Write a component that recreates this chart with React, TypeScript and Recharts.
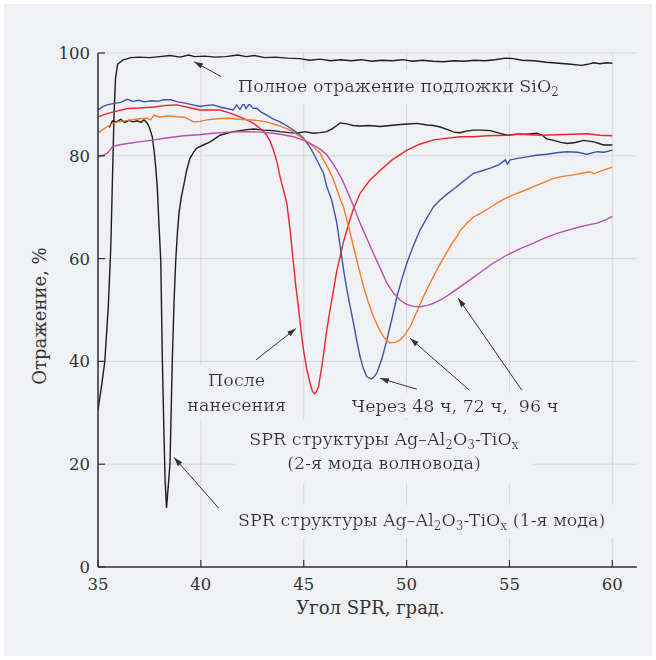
import React from "react";
import { LineChart, Line, XAxis, YAxis, CartesianGrid } from "recharts";

// Reflectance curves, [SPR angle (deg), reflectance (%)]
const sio2Total: [number, number][] = [
  [35, 30.5], [35.2, 36], [35.33, 40], [35.5, 50.6], [35.62, 62], [35.7, 75], [35.78, 88],
  [35.85, 95], [35.95, 97.8], [36.2, 98.6], [36.6, 99.1], [37, 99.2], [37.5, 99.1], [38, 99.3],
  [38.5, 99.5], [39, 99.2], [39.4, 99.6], [39.7, 99.3], [40.2, 99.4], [40.7, 99.2], [41.2, 99.3],
  [41.8, 99.6], [42.2, 99.3], [42.6, 99.5], [43.1, 99.1], [43.6, 99.2], [44.2, 99.0], [44.8, 98.9],
  [45.3, 98.6], [45.8, 98.8], [46.3, 98.5], [46.8, 98.7], [47.3, 98.5], [47.8, 98.7], [48.3, 98.4],
  [48.8, 98.6], [49.3, 98.5], [49.8, 98.7], [50.3, 98.4], [50.8, 98.6], [51.3, 98.4], [51.8, 98.3],
  [52.3, 98.5], [52.8, 98.4], [53.3, 98.6], [53.8, 98.5], [54.3, 98.7], [54.8, 99.0], [55.2, 98.9],
  [55.6, 98.6], [56.2, 98.5], [56.8, 98.2], [57.4, 98.0], [58.0, 97.8], [58.5, 97.6], [58.8, 97.8],
  [59.1, 98.1], [59.4, 97.9], [59.7, 98.1], [60, 98.0],
];

const firstMode: [number, number][] = [
  [35.55, 85.5], [35.7, 86.8], [35.9, 86.6], [36.1, 87.1], [36.3, 86.5], [36.5, 86.9], [36.7, 86.6],
  [36.9, 86.8], [37.1, 86.5], [37.24, 87], [37.4, 86.3], [37.5, 85.5], [37.64, 83.7], [37.74, 80.5],
  [37.8, 78], [37.88, 74], [37.96, 67], [38.05, 59.7], [38.13, 40], [38.2, 27], [38.26, 17],
  [38.33, 11.5], [38.4, 15], [38.5, 20.2], [38.61, 40], [38.7, 52], [38.78, 59.7], [38.86, 65],
  [38.94, 69], [39.05, 72], [39.18, 74.5], [39.3, 77], [39.47, 79.5], [39.65, 80.7], [39.8, 81.5],
  [40.12, 82.1], [40.4, 82.6], [40.6, 83.1], [40.93, 84], [41.3, 84.4], [41.58, 84.7], [42.23, 85.1],
  [42.6, 85.2], [43.04, 85], [43.5, 84.9], [43.85, 84.7], [44.3, 84.5], [44.66, 84.4], [45.07, 84.7],
  [45.47, 84.4], [45.8, 84.5], [46.12, 84.7], [46.4, 85.3], [46.61, 85.9], [46.77, 86.4], [47.1, 86.2],
  [47.4, 85.9], [47.74, 85.8], [48.2, 85.9], [48.72, 85.7], [49.2, 85.9], [49.69, 86.1], [50.1, 86.2],
  [50.5, 86.3], [51.0, 86.0], [51.3, 85.9], [51.63, 85.6], [52.0, 85.1], [52.3, 84.6], [52.6, 84.5],
  [52.9, 84.8], [53.25, 85], [53.6, 85], [54.07, 84.9], [54.5, 84.4], [54.88, 84.0], [55.3, 84.2],
  [55.85, 84.2], [56.34, 84.4], [56.6, 84.0], [56.8, 83.3], [57.15, 83], [57.5, 82.6], [57.8, 82.4],
  [58.2, 82.6], [58.6, 83], [59.1, 82.7], [59.58, 82.1], [60, 82.1],
];

const asDeposited: [number, number][] = [
  [35, 87.6], [35.3, 88], [35.53, 88.3], [36, 88.8], [36.43, 89.2], [37, 89.3], [37.72, 89.5],
  [38.3, 89.8], [38.86, 89.9], [39.4, 89.4], [39.96, 88.9], [40.5, 88.9], [40.93, 88.9], [41.42, 88.3],
  [41.8, 87.7], [42.23, 87], [42.6, 86.2], [42.88, 85.3], [43.05, 84.7], [43.2, 84], [43.37, 82.8],
  [43.53, 81.1], [43.7, 78.8], [43.85, 75.9], [44.02, 73.3], [44.18, 70.7], [44.34, 65.5], [44.5, 59.1],
  [44.62, 54.5], [44.74, 50.6], [44.87, 46], [44.99, 42.2], [45.15, 38.5], [45.31, 35.7], [45.42, 34.2],
  [45.52, 33.7], [45.62, 34.1], [45.72, 35.1], [45.9, 39.5], [46.12, 46.1], [46.3, 50.5], [46.45, 53.9],
  [46.6, 57.5], [46.77, 60.4], [46.93, 63.2], [47.1, 65.6], [47.4, 69.5], [47.74, 72.7], [48.2, 75.2],
  [48.72, 77.2], [49.3, 79.2], [50.02, 81.1], [50.6, 82.2], [51.31, 83.1], [51.9, 83.4], [52.6, 83.7],
  [53.25, 83.7], [53.9, 83.9], [54.88, 84], [55.5, 84.2], [56.5, 84], [57.3, 84.1], [58.12, 84.2],
  [58.8, 84.3], [59.4, 84.0], [60, 83.9],
];

const after48h: [number, number][] = [
  [35, 88.9], [35.25, 89.6], [35.45, 89.9], [35.78, 90.2], [36.1, 90.4], [36.43, 91], [36.7, 90.6],
  [37.0, 90.8], [37.24, 90.5], [37.6, 90.7], [37.9, 90.6], [38.2, 90.9], [38.54, 90.9], [38.86, 90.5],
  [39.18, 90.3], [39.5, 90.0], [39.96, 89.6], [40.3, 89.8], [40.6, 89.9], [40.93, 89.5], [41.26, 89.2],
  [41.58, 88.9], [41.74, 89.9], [41.9, 89.0], [42.07, 90.2], [42.2, 89.2], [42.35, 90.1], [42.55, 89.2],
  [42.7, 89.3], [42.9, 88.6], [43.2, 87.9], [43.5, 87.2], [43.85, 86.6], [44.2, 85.8], [44.5, 85],
  [44.75, 84.3], [44.99, 83.4], [45.25, 82], [45.47, 80.5], [45.7, 78.7], [45.96, 76.6], [46.12, 74],
  [46.36, 71.4], [46.61, 66.9], [46.77, 62.5], [46.93, 58], [47.1, 53.9], [47.26, 50.6], [47.42, 47.4],
  [47.58, 44], [47.74, 40.9], [47.9, 38.6], [48.07, 37], [48.28, 36.6], [48.4, 36.9], [48.55, 37.7],
  [48.8, 40.5], [49.04, 44.2], [49.3, 48.5], [49.53, 52.6], [49.77, 56], [50.01, 59.1], [50.33, 62.5],
  [50.66, 65.6], [51.0, 68], [51.31, 70.1], [51.63, 71.4], [51.95, 72.5], [52.28, 73.5], [52.75, 75],
  [53.25, 76.6], [53.6, 77], [54.07, 77.6], [54.5, 78.3], [54.8, 79.2], [54.9, 78.4], [55.04, 79.2],
  [55.4, 79.5], [55.85, 79.8], [56.3, 80.1], [56.82, 80.3], [57.3, 80.6], [57.8, 80.8], [58.3, 80.7],
  [58.77, 80.3], [59.26, 80.8], [59.6, 80.7], [60, 81.1],
];

const after72h: [number, number][] = [
  [35, 84.4], [35.2, 85], [35.45, 85.7], [35.7, 86.2], [35.94, 86.6], [36.3, 86.8], [36.59, 87],
  [37.0, 87.2], [37.4, 87.3], [37.55, 87.0], [37.72, 87.9], [38.0, 87.5], [38.4, 87.8], [38.86, 87.6],
  [39.2, 87.5], [39.64, 86.6], [39.96, 86.7], [40.29, 87], [40.8, 87.2], [41.42, 87.3], [41.8, 87.1],
  [42.23, 87], [42.7, 86.9], [43.2, 86.6], [43.7, 86], [44.18, 85.3], [44.5, 84.6], [44.83, 83.7],
  [45.15, 82.8], [45.47, 81.8], [45.8, 80.5], [45.96, 79.2], [46.2, 77.5], [46.45, 75.3], [46.61, 73.5],
  [46.77, 71.6], [46.93, 70.1], [47.18, 66.2], [47.42, 62.3], [47.66, 58.4], [47.91, 54.5], [48.15, 51.4],
  [48.39, 48.7], [48.64, 46.5], [48.88, 44.8], [49.04, 44], [49.2, 43.6], [49.45, 43.7], [49.69, 44.2],
  [49.94, 45.3], [50.18, 46.8], [50.5, 49.7], [50.82, 52.6], [51.15, 55.3], [51.47, 57.8], [51.72, 59.6],
  [51.96, 61.2], [52.2, 62.9], [52.45, 64.3], [52.6, 65.4], [52.93, 66.9], [53.25, 68.1], [53.58, 68.8],
  [54.0, 69.8], [54.39, 70.8], [54.8, 71.7], [55.2, 72.4], [55.7, 73.2], [56.17, 74], [56.65, 74.8],
  [57.15, 75.6], [57.6, 76.0], [58.12, 76.3], [58.5, 76.6], [58.93, 76.9], [59.1, 76.5], [59.5, 77.1],
  [60, 77.8],
];

const after96h: [number, number][] = [
  [35, 79.8], [35.25, 80.1], [35.45, 80.5], [35.6, 81.2], [35.7, 81.8], [36.0, 82.1], [36.43, 82.4],
  [37.0, 82.7], [37.72, 83.1], [38.4, 83.5], [39.18, 83.9], [39.9, 84.1], [40.6, 84.4], [41.4, 84.6],
  [42.23, 84.7], [42.9, 84.6], [43.53, 84.4], [44.0, 84.1], [44.5, 83.7], [45.0, 83.0], [45.47, 82.1],
  [45.8, 81.3], [46.12, 80.2], [46.45, 78.3], [46.61, 77.2], [46.85, 75.5], [47.1, 73.3], [47.42, 70.2],
  [47.74, 66.9], [48.07, 63.9], [48.39, 61], [48.72, 58.1], [49.04, 55.2], [49.37, 53.3], [49.69, 51.9],
  [50.0, 51.1], [50.33, 50.7], [50.66, 50.6], [51.0, 50.9], [51.3, 51.3], [51.63, 51.9], [52.1, 53.1],
  [52.6, 54.5], [53.1, 55.9], [53.58, 57.3], [54.2, 59.1], [54.88, 60.7], [55.5, 61.9], [56.17, 63],
  [56.7, 64], [57.31, 64.9], [57.9, 65.6], [58.44, 66.2], [58.9, 66.6], [59.26, 66.9], [59.7, 67.6],
  [60, 68.2],
];

const xTicks = [35, 40, 45, 50, 55, 60];
const yTicks = [0, 20, 40, 60, 80, 100];

const X_MIN = 35;
const X_MAX = 61.2;

const W = 656;
const H = 660;
const M = { top: 53, right: 19, bottom: 53, left: 38 };
const Y_AXIS_W = 60;
const X_AXIS_H = 40;

const PLOT_L = M.left + Y_AXIS_W;
const PLOT_R = W - M.right;
const PLOT_T = M.top;
const PLOT_B = H - M.bottom - X_AXIS_H;

// data -> pixel, same linear mapping the axes use
const sx = (v: number) => PLOT_L + ((v - X_MIN) / (X_MAX - X_MIN)) * (PLOT_R - PLOT_L);
const sy = (v: number) => PLOT_B - (v / 100) * (PLOT_B - PLOT_T);

const BG = "#f0f1f4";
const INK = "#333";
const FONT = "'DejaVu Serif', serif";
const NOTE_SIZE = 17.5;
const SUB_SIZE = 12;

const toRows = (pts: [number, number][]) => pts.map(([x, y]) => ({ x, y }));

const series = [
  { name: "SiO2", data: toRows(sio2Total), color: "#1e1e1e" },
  { name: "mode1", data: toRows(firstMode), color: "#1e1e1e" },
  { name: "0h", data: toRows(asDeposited), color: "#e8262b" },
  { name: "48h", data: toRows(after48h), color: "#3a55a8" },
  { name: "72h", data: toRows(after72h), color: "#f47b2c" },
  { name: "96h", data: toRows(after96h), color: "#b84fab" },
];

const XTick = (props: any) => {
  const { x, y, payload } = props;
  return (
    <g>
      <line x1={x} x2={x} y1={y} y2={y - 7} stroke={INK} strokeWidth={1.2} />
      <text x={x} y={y + 23} textAnchor="middle" fill={INK} fontSize={16.5} fontFamily={FONT}>
        {payload.value}
      </text>
    </g>
  );
};

const YTick = (props: any) => {
  const { x, y, payload } = props;
  return (
    <g>
      <line x1={x} x2={x + 7} y1={y} y2={y} stroke={INK} strokeWidth={1.2} />
      <text x={x - 8} y={y + 6} textAnchor="end" fill={INK} fontSize={16.5} fontFamily={FONT}>
        {payload.value}
      </text>
    </g>
  );
};

// "Ag–Al2O3-TiOx" with subscripts; `tail` continues on the main baseline
const Formula = ({ tail }: { tail?: string }) => (
  <>
    <tspan>SPR структуры Ag–Al</tspan>
    <tspan dy={4} fontSize={SUB_SIZE}>2</tspan>
    <tspan dy={-4}>O</tspan>
    <tspan dy={4} fontSize={SUB_SIZE}>3</tspan>
    <tspan dy={-4}>-TiO</tspan>
    <tspan dy={4} fontSize={SUB_SIZE}>x</tspan>
    {tail && <tspan dy={-4}>{tail}</tspan>}
  </>
);

const Arrow = ({ from, to }: { from: [number, number]; to: [number, number] }) => (
  <line
    x1={sx(from[0])}
    y1={sy(from[1])}
    x2={sx(to[0])}
    y2={sy(to[1])}
    stroke={INK}
    strokeWidth={1}
    markerEnd="url(#head)"
  />
);

const Notes = () => (
  <svg
    width={W}
    height={H}
    style={{ position: "absolute", left: 0, top: 0, pointerEvents: "none" }}
    fontFamily={FONT}
    fontSize={NOTE_SIZE}
    fill={INK}
  >
    <defs>
      <marker id="head" viewBox="0 0 10 10" refX="10" refY="5" markerWidth="9" markerHeight="9" orient="auto" markerUnits="userSpaceOnUse">
        <path d="M0,1.8 L10,5 L0,8.2 z" fill={INK} />
      </marker>
      <filter id="pad" x="-0.05" y="-0.2" width="1.1" height="1.4">
        <feFlood floodColor={BG} />
        <feMerge>
          <feMergeNode />
          <feMergeNode in="SourceGraphic" />
        </feMerge>
      </filter>
      <filter id="padTight" x="-0.02" y="-0.1" width="1.04" height="1.2">
        <feFlood floodColor={BG} />
        <feMerge>
          <feMergeNode />
          <feMergeNode in="SourceGraphic" />
        </feMerge>
      </filter>
    </defs>

    <Arrow from={[41.58, 94.1]} to={[39.67, 98.3]} />
    <text x={sx(41.8)} y={sy(92.5)} filter="url(#pad)">
      <tspan>Полное отражение подложки SiO</tspan>
      <tspan dy={4} fontSize={SUB_SIZE}>2</tspan>
    </text>

    <Arrow from={[42.68, 40.3]} to={[44.62, 46.4]} />
    <g filter="url(#padTight)" textAnchor="middle">
      <text x={sx(41.74)} y={sy(35.2)}>После</text>
      <text x={sx(41.74)} y={sy(30.4)}>нанесения</text>
    </g>

    <Arrow from={[50.5, 34.6]} to={[48.71, 36.7]} />
    <Arrow from={[53.05, 34.4]} to={[50.17, 44.5]} />
    <Arrow from={[55.6, 34.4]} to={[52.51, 52.3]} />
    <text x={sx(47.33)} y={sy(30.2)} filter="url(#padTight)" xmlSpace="preserve">
      Через 48 ч, 72 ч,  96 ч
    </text>

    <g filter="url(#pad)" textAnchor="middle">
      <text x={sx(48.9)} y={sy(23.7)}>
        <Formula />
      </text>
      <text x={sx(48.9)} y={sy(19)}>(2-я мода волновода)</text>
    </g>

    <Arrow from={[41.34, 9.3]} to={[38.7, 21.3]} />
    <text x={sx(41.8)} y={sy(8)} filter="url(#pad)">
      <Formula tail=" (1-я мода)" />
    </text>

    <text x={(PLOT_L + PLOT_R) / 2 + 3} y={614} textAnchor="middle" fontSize={18}>
      Угол SPR, град.
    </text>
    <text x={46} y={316} textAnchor="middle" fontSize={18} transform="rotate(-90 46 316)">
      Отражение, %
    </text>
  </svg>
);

export default function App() {
  return (
    <div style={{ position: "absolute", left: 0, top: 0, width: W, height: H, background: "#fff" }}>
      <div style={{ position: "absolute", left: 4, top: 4, width: W - 8, height: H - 8, background: BG }} />
      <div style={{ position: "absolute", left: 0, top: 0 }}>
        <LineChart width={W} height={H} margin={M}>
          <CartesianGrid stroke="#d6d7db" strokeWidth={1} horizontalValues={yTicks} verticalValues={xTicks} />
          <XAxis
            type="number"
            dataKey="x"
            domain={[X_MIN, X_MAX]}
            ticks={xTicks}
            allowDataOverflow
            height={X_AXIS_H}
            tickSize={0}
            tickMargin={0}
            tickLine={false}
            tick={<XTick />}
            axisLine={{ stroke: INK, strokeWidth: 1.5 }}
          />
          <XAxis
            xAxisId="top"
            orientation="top"
            type="number"
            domain={[X_MIN, X_MAX]}
            height={0}
            tick={false}
            tickLine={false}
            axisLine={{ stroke: INK, strokeWidth: 1.5 }}
          />
          <YAxis
            type="number"
            domain={[0, 100]}
            ticks={yTicks}
            width={Y_AXIS_W}
            tickSize={0}
            tickMargin={0}
            tickLine={false}
            tick={<YTick />}
            axisLine={{ stroke: INK, strokeWidth: 1.5 }}
          />
          <YAxis
            yAxisId="right"
            orientation="right"
            type="number"
            domain={[0, 100]}
            width={0}
            tick={false}
            tickLine={false}
            axisLine={{ stroke: INK, strokeWidth: 1.5 }}
          />
          {series.map((s) => (
            <Line
              key={s.name}
              data={s.data}
              dataKey="y"
              type="linear"
              stroke={s.color}
              strokeWidth={1.4}
              dot={false}
              activeDot={false}
              isAnimationActive={false}
            />
          ))}
        </LineChart>
      </div>
      <Notes />
    </div>
  );
}
